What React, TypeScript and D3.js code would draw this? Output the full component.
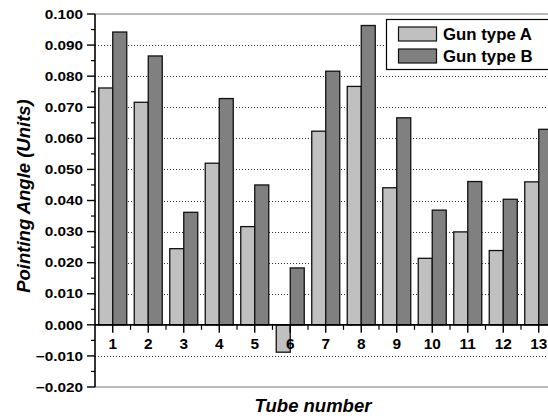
import React, { useEffect, useRef } from "react";
import * as d3 from "d3";

const tubes = ["1", "2", "3", "4", "5", "6", "7", "8", "9", "10", "11", "12", "13"];
const seriesNames = ["Gun type A", "Gun type B"];
const gunA = [0.0762, 0.0716, 0.0245, 0.052, 0.0316, -0.0088, 0.0623, 0.0767, 0.0441, 0.0214, 0.0299, 0.0239, 0.046];
const gunB = [0.0942, 0.0865, 0.0362, 0.0728, 0.045, 0.0183, 0.0816, 0.0963, 0.0666, 0.0369, 0.0461, 0.0404, 0.0629];
const yTicks = [-0.02, -0.01, 0, 0.01, 0.02, 0.03, 0.04, 0.05, 0.06, 0.07, 0.08, 0.09, 0.1];
const yMinorTicks = [-0.015, -0.005, 0.005, 0.015, 0.025, 0.035, 0.045, 0.055, 0.065, 0.075, 0.085, 0.095];
const colors = ["#c0c0c0", "#808080"];

const W = 548;
const H = 418;
const FONT = "'Liberation Sans', Arial, sans-serif";

export default function App() {
  const ref = useRef<SVGSVGElement>(null);

  useEffect(() => {
    const svg = d3.select(ref.current);
    svg.selectAll("*").remove();

    const left = 95;
    const top = 14;
    const bottom = 387;
    const band = 35.5;

    const x0 = d3.scaleBand<string>().domain(tubes).range([left, left + band * tubes.length]).padding(0);
    const x1 = d3.scaleBand<string>().domain(seriesNames).range([3.75, band - 3.75]).padding(0);
    const y = d3.scaleLinear().domain([-0.02, 0.1]).range([bottom, top]);

    const g = svg.append("g");
    // gridlines
    g.selectAll("line.grid")
      .data(yTicks.filter((t) => Math.abs(t) > 1e-9 && t < 0.099 && t > -0.019))
      .enter()
      .append("line")
      .attr("x1", left)
      .attr("x2", W)
      .attr("y1", (d) => Math.round(y(d)) + 0.5)
      .attr("y2", (d) => Math.round(y(d)) + 0.5)
      .attr("stroke", "#333")
      .attr("stroke-width", 1)
      .attr("stroke-dasharray", "1,2");

    // frame top/bottom
    [0.1, -0.02].forEach((v) => {
      g.append("line")
        .attr("x1", left)
        .attr("x2", W)
        .attr("y1", y(v))
        .attr("y2", y(v))
        .attr("stroke", "#777")
        .attr("stroke-width", 1.2);
    });

    // bars
    const data = [gunA, gunB];
    data.forEach((vals, si) => {
      g.selectAll(`rect.s${si}`)
        .data(vals)
        .enter()
        .append("rect")
        .attr("x", (_, i) => (x0(tubes[i]) as number) + (x1(seriesNames[si]) as number))
        .attr("width", x1.bandwidth())
        .attr("y", (d) => y(Math.max(0, d)))
        .attr("height", (d) => Math.abs(y(d) - y(0)))
        .attr("fill", colors[si])
        .attr("stroke", "#111")
        .attr("stroke-width", 1.3);
    });

    // zero line
    g.append("line")
      .attr("x1", left)
      .attr("x2", W)
      .attr("y1", y(0))
      .attr("y2", y(0))
      .attr("stroke", "#000")
      .attr("stroke-width", 1.6);

    // x ticks
    tubes.forEach((t) => {
      const cx = (x0(t) as number) + band / 2;
      g.append("line")
        .attr("x1", cx).attr("x2", cx)
        .attr("y1", y(0)).attr("y2", y(0) + 8)
        .attr("stroke", "#000").attr("stroke-width", 1.4);
      const bx = (x0(t) as number) + band;
      g.append("line")
        .attr("x1", bx).attr("x2", bx)
        .attr("y1", y(0)).attr("y2", y(0) + 5)
        .attr("stroke", "#000").attr("stroke-width", 1.2);
      g.append("text")
        .attr("transform", `translate(${cx},348.5) scale(1.1,1)`)
        .attr("text-anchor", "middle")
        .attr("font-family", FONT)
        .attr("font-weight", "bold")
        .attr("font-size", 14)
        .attr("fill", "#000")
        .text(t);
    });

    // y axis
    g.append("line")
      .attr("x1", left).attr("x2", left)
      .attr("y1", top).attr("y2", bottom)
      .attr("stroke", "#000").attr("stroke-width", 1.6);
    yTicks.forEach((t) => {
      g.append("line")
        .attr("x1", left - 8).attr("x2", left)
        .attr("y1", y(t)).attr("y2", y(t))
        .attr("stroke", "#000").attr("stroke-width", 1.4);
      g.append("text")
        .attr("transform", `translate(83,${y(t)}) scale(1.18,1)`)
        .attr("dy", "0.36em")
        .attr("text-anchor", "end")
        .attr("font-family", FONT)
        .attr("font-weight", "bold")
        .attr("font-size", 13)
        .attr("fill", "#000")
        .text(d3.format(".3f")(t));
    });
    yMinorTicks.forEach((t) => {
      g.append("line")
        .attr("x1", left - 4).attr("x2", left)
        .attr("y1", y(t)).attr("y2", y(t))
        .attr("stroke", "#000").attr("stroke-width", 1.2);
    });

    // axis titles
    g.append("text")
      .attr("x", 313)
      .attr("y", 412)
      .attr("text-anchor", "middle")
      .attr("font-family", FONT)
      .attr("font-weight", "bold")
      .attr("font-style", "italic")
      .attr("font-size", 18.5)
      .attr("fill", "#000")
      .text("Tube number");
    g.append("text")
      .attr("transform", `translate(29.5,196) rotate(-90)`)
      .attr("text-anchor", "middle")
      .attr("font-family", FONT)
      .attr("font-weight", "bold")
      .attr("font-style", "italic")
      .attr("font-size", 18.5)
      .attr("fill", "#000")
      .text("Pointing Angle (Units)");

    // legend
    const lg = g.append("g");
    lg.append("rect")
      .attr("x", 386.5).attr("y", 19.5)
      .attr("width", 200).attr("height", 50)
      .attr("fill", "#fff").attr("stroke", "#000").attr("stroke-width", 1.2);
    seriesNames.forEach((s, i) => {
      const yy = 27 + i * 22;
      lg.append("rect")
        .attr("x", 398.5).attr("y", yy)
        .attr("width", 38).attr("height", 14)
        .attr("fill", colors[i]).attr("stroke", "#111").attr("stroke-width", 1.2);
      lg.append("text")
        .attr("x", 443)
        .attr("y", yy + 12.8)
        .attr("font-family", FONT)
        .attr("font-weight", "bold")
        .attr("font-size", 16.8)
        .attr("fill", "#000")
        .text(s);
    });
  }, []);

  return (
    <svg
      ref={ref}
      width={W}
      height={H}
      style={{ position: "absolute", left: 0, top: 0, background: "#fff" }}
    />
  );
}
